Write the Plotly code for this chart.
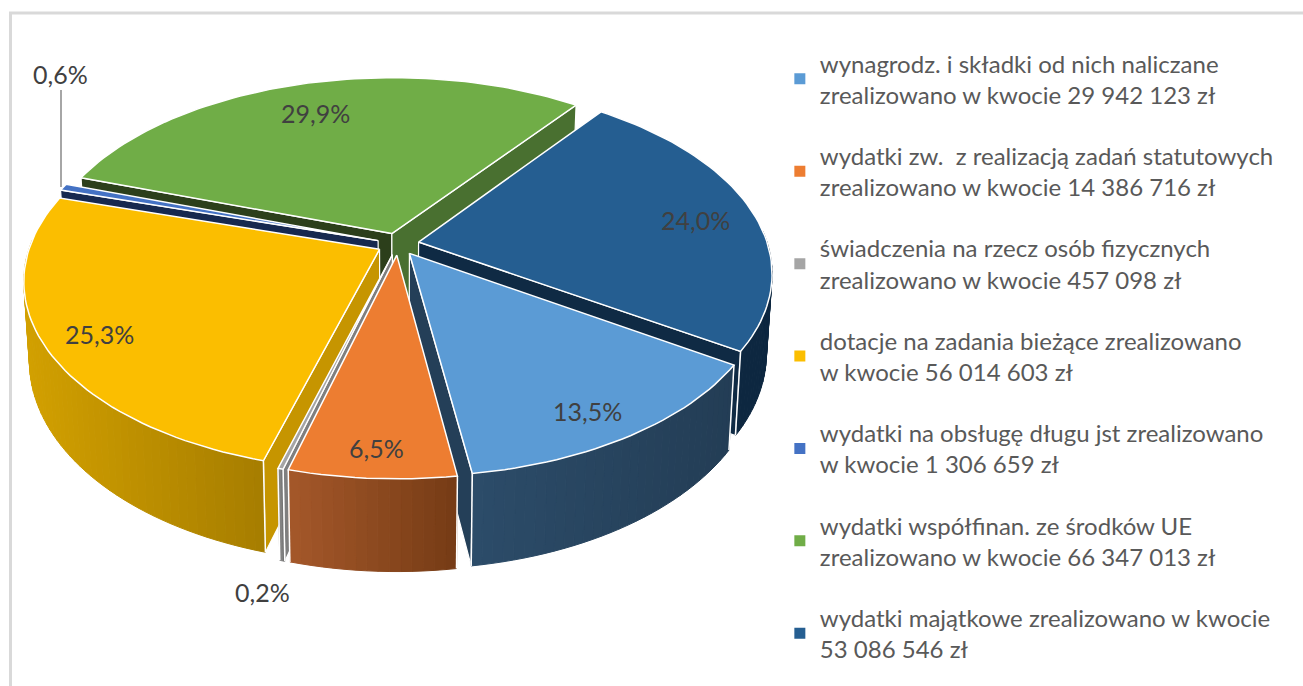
import math
import plotly.graph_objects as go

# ---------- data ----------
categories = [
    "wynagrodz. i składki od nich naliczane<br>zrealizowano w kwocie 29 942 123 zł",
    "wydatki zw.  z realizacją zadań statutowych<br>zrealizowano w kwocie 14 386 716 zł",
    "świadczenia na rzecz osób fizycznych<br>zrealizowano w kwocie 457 098 zł",
    "dotacje na zadania bieżące zrealizowano<br>w kwocie 56 014 603 zł",
    "wydatki na obsługę długu jst zrealizowano<br>w kwocie 1 306 659 zł",
    "wydatki współfinan. ze środków UE<br>zrealizowano w kwocie 66 347 013 zł",
    "wydatki majątkowe zrealizowano w kwocie<br>53 086 546 zł",
]
values = [29942123, 14386716, 457098, 56014603, 1306659, 66347013, 53086546]
pct_labels = ["13,5%", "6,5%", "0,2%", "25,3%", "0,6%", "29,9%", "24,0%"]

top_colors = ["#5b9bd5", "#ed7d31", "#a5a5a5", "#fbbe00", "#4472c4", "#70ad47", "#255e91"]
start_cut = ["#243f58", "#8a4a1c", "#7f7f7f", "#c69500", "#17294f", "#2c3f1b", "#0f2a44"]
end_cut = ["#243f58", "#8a4a1c", "#7f7f7f", "#c69500", "#17294f", "#497030", "#0f2a44"]
outer_left = ["#2c4c69", "#a5582a", "#8a8a8a", "#d2a000", "#17294f", "#2c3f1b", "#0d2740"]
outer_right = ["#233d55", "#753b15", "#6f6f6f", "#a67d00", "#17294f", "#2c3f1b", "#0d2740"]
draw_order = [5, 6, 4, 3, 2, 0, 1]

label_pos = [(587, 411), (376, 448), (262, 592), (99, 334), (60, 74), (315, 113), (695, 220)]

# ---------- projection of the tilted, exploded pie ----------
CX, CY, RX, RY, P, EXPLODE, DEPTH = 398, 244, 349, 184, 0.16, 0.06, 77
START_DEG = 123
CAM_V = -3.0
FONT = "Lato"


def project(u, v, bottom=False):
    s = 1 / (1 + P * v)
    x = RX * u * s
    y = CY - RY * v * s
    if bottom:
        return CX + x * 0.985, y + DEPTH * s
    return CX + x, y


def hex_mix(a, b, t):
    ca = [int(a[i:i + 2], 16) for i in (1, 3, 5)]
    cb = [int(b[i:i + 2], 16) for i in (1, 3, 5)]
    return "rgb(%d,%d,%d)" % tuple(round(p + (q - p) * t) for p, q in zip(ca, cb))


def poly(xs, ys, fill, line=None, width=1.0):
    return go.Scatter(
        x=list(xs) + [xs[0]], y=list(ys) + [ys[0]], mode="lines", fill="toself",
        fillcolor=fill, line=dict(color=line or fill, width=width),
        hoverinfo="skip", showlegend=False,
    )


fig = go.Figure()
total = sum(values)
angles = [START_DEG]
for val in values:
    angles.append(angles[-1] + 360 * val / total)

for i in draw_order:
    a0, a1 = math.radians(angles[i]), math.radians(angles[i + 1])
    mid = (a0 + a1) / 2
    ou, ov = EXPLODE * math.sin(mid), EXPLODE * math.cos(mid)
    n = max(2, int(math.degrees(a1 - a0) / 1.5))
    th = [a0 + (a1 - a0) * k / n for k in range(n + 1)]
    rim = [(ou + math.sin(t), ov + math.cos(t)) for t in th]

    # radial cut faces: only those turned towards the viewer
    faces = (
        (rim[0], (-math.cos(a0), math.sin(a0)), start_cut[i]),
        (rim[-1], (math.cos(a1), -math.sin(a1)), end_cut[i]),
    )
    for (eu, ev), (nu, nv), col in faces:
        if nu * (0 - ou) + nv * (CAM_V - ov) <= 0:
            continue
        pts = [project(ou, ov), project(eu, ev), project(eu, ev, True), project(ou, ov, True)]
        fig.add_trace(poly([p[0] for p in pts], [p[1] for p in pts], col, "white", 1.2))

    # outer wall (near half only) with a left-to-right shade
    up = [project(*r) for r in rim]
    lo = [project(*r, True) for r in rim]
    xmin, xmax = min(p[0] for p in up), max(p[0] for p in up)
    for k in range(n):
        if math.cos((th[k] + th[k + 1]) / 2) > 0.05:
            continue
        t = (up[k][0] + up[k + 1][0]) / 2
        t = (t - xmin) / max(xmax - xmin, 1)
        col = hex_mix(outer_left[i], outer_right[i], t)
        xs = [up[k][0], up[k + 1][0], lo[k + 1][0], lo[k][0]]
        ys = [up[k][1], up[k + 1][1], lo[k + 1][1], lo[k][1]]
        fig.add_trace(poly(xs, ys, col, col, 1.0))
    # white edges where the wall meets the cut faces
    for k in (0, n):
        if math.cos(th[k]) <= 0.05:
            fig.add_trace(go.Scatter(
                x=[up[k][0], lo[k][0]], y=[up[k][1], lo[k][1]], mode="lines",
                line=dict(color="white", width=1.5), hoverinfo="skip", showlegend=False,
            ))

    # top face
    ax, ay = project(ou, ov)
    fig.add_trace(poly([ax] + [p[0] for p in up], [ay] + [p[1] for p in up],
                       top_colors[i], "white", 1.5))

# legend entries
for name, col in zip(categories, top_colors):
    fig.add_trace(go.Scatter(
        x=[None], y=[None], mode="markers", name=name, legendgroup=name,
        marker=dict(symbol="square", size=11, color=col),
    ))

# data labels
for (x, y), text in zip(label_pos, pct_labels):
    fig.add_annotation(x=x, y=y, text=text, showarrow=False,
                       font=dict(family=FONT, size=25, color="#404040"))

# leader line of the 0,6% label and chart frame
fig.add_shape(type="line", x0=61, x1=61, y0=90, y1=187, line=dict(color="#a6a6a6", width=2))
fig.add_shape(type="rect", x0=10.5, x1=1320, y0=13, y1=700, line=dict(color="#d9d9d9", width=3))

fig.update_layout(
    width=1303, height=686, margin=dict(l=0, r=0, t=0, b=0),
    paper_bgcolor="white", plot_bgcolor="white",
    xaxis=dict(range=[0, 1303], visible=False, fixedrange=True),
    yaxis=dict(range=[686, 0], visible=False, fixedrange=True),
    font=dict(family=FONT),
    legend=dict(x=0.5985, y=0.94, xanchor="left", yanchor="top", tracegroupgap=27,
                font=dict(family=FONT, size=24, color="#595959"),
                bgcolor="rgba(0,0,0,0)", itemwidth=30),
)
fig.write_html("out.html", config={"displayModeBar": False},
               post_script="document.body.style.margin='0';")
